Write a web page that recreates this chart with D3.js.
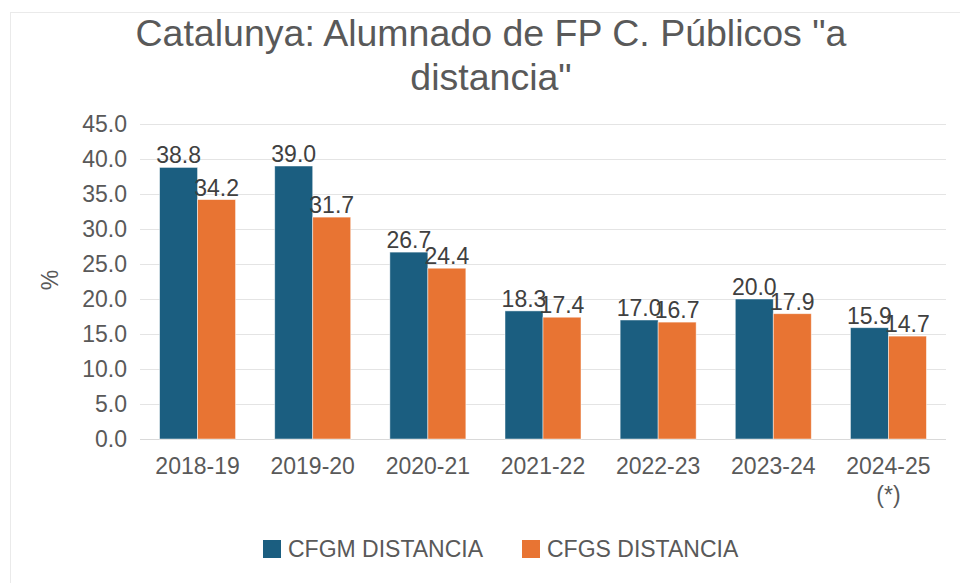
<!DOCTYPE html>
<html>
<head>
<meta charset="utf-8">
<script src="https://cdn.jsdelivr.net/npm/d3@7/dist/d3.min.js"></script>
<style>
  body { margin: 0; background: #fff; }
  svg { font-family: "Liberation Sans", Arial, sans-serif; }
</style>
</head>
<body>
<script>
// ---- data ----
var categories = ["2018-19", "2019-20", "2020-21", "2021-22", "2022-23", "2023-24", "2024-25|(*)"];
var seriesNames = ["CFGM DISTANCIA", "CFGS DISTANCIA"];
var cfgm = [38.8, 39.0, 26.7, 18.3, 17.0, 20.0, 15.9];
var cfgs = [34.2, 31.7, 24.4, 17.4, 16.7, 17.9, 14.7];
var yTicks = [0, 5, 10, 15, 20, 25, 30, 35, 40, 45];
var titleLines = ["Catalunya: Alumnado de FP C. Públicos \"a", "distancia\""];

// ---- layout ----
var W = 960, H = 583;
var margin = {top: 124, right: 14, bottom: 144, left: 140};
var width = W - margin.left - margin.right;
var height = H - margin.top - margin.bottom;
var colors = ["#1b5e80", "#e87433"];
var textGray = "#595959";
var fs = 23;

var svg = d3.select("body").append("svg")
  .attr("width", W)
  .attr("height", H);

// light frame
svg.append("rect")
  .attr("x", 10.5).attr("y", 12.5)
  .attr("width", W).attr("height", H)
  .attr("fill", "none")
  .attr("stroke", "#eaeaea");

// title
svg.append("g").selectAll("text")
  .data(titleLines)
  .enter().append("text")
    .attr("x", 491)
    .attr("y", function(d, i) { return 46 + i * 44; })
    .attr("text-anchor", "middle")
    .attr("font-size", 37.5)
    .attr("fill", textGray)
    .text(function(d) { return d; });

var g = svg.append("g")
  .attr("transform", "translate(" + margin.left + "," + margin.top + ")");

var x = d3.scaleBand()
  .domain(categories)
  .range([0, width]);

var x1 = d3.scaleBand()
  .domain(seriesNames)
  .range([0, 76]);

var y = d3.scaleLinear()
  .domain([0, 45])
  .range([height, 0]);

// gridlines
g.append("g").selectAll("line")
  .data(yTicks)
  .enter().append("line")
    .attr("x1", 0).attr("x2", width)
    .attr("y1", function(d) { return Math.round(y(d)) + 0.5; })
    .attr("y2", function(d) { return Math.round(y(d)) + 0.5; })
    .attr("stroke", function(d) { return d === 0 ? "#d9d9d9" : "#e4e4e4"; })
    .attr("stroke-width", 1.2);

// y axis labels
var yAxis = d3.axisLeft(y)
  .tickValues(yTicks)
  .tickFormat(d3.format(".1f"))
  .tickSize(0)
  .tickPadding(13);
var yg = g.append("g").call(yAxis);
yg.select(".domain").remove();
yg.selectAll("text")
  .attr("font-size", fs)
  .attr("fill", textGray)
  .attr("font-family", "Liberation Sans, Arial, sans-serif");

// y axis title
svg.append("text")
  .attr("transform", "translate(58,280) rotate(-90)")
  .attr("text-anchor", "middle")
  .attr("font-size", fs)
  .attr("fill", textGray)
  .text("%");

// x axis labels
var xg = g.append("g")
  .attr("transform", "translate(0," + height + ")");
categories.forEach(function(c) {
  var parts = c.split("|");
  var t = xg.append("text")
    .attr("x", x(c) + x.bandwidth() / 2)
    .attr("y", 35)
    .attr("text-anchor", "middle")
    .attr("font-size", fs)
    .attr("fill", textGray);
  parts.forEach(function(p, i) {
    t.append("tspan")
      .attr("x", x(c) + x.bandwidth() / 2)
      .attr("dy", i === 0 ? 0 : 29)
      .text(p);
  });
});

// bars
var seriesData = [cfgm, cfgs];
seriesData.forEach(function(vals, si) {
  var off = (x.bandwidth() - x1.range()[1]) / 2 + x1(seriesNames[si]);
  var sg = g.append("g");
  sg.selectAll("rect")
    .data(vals)
    .enter().append("rect")
      .attr("x", function(d, i) { return x(categories[i]) + off; })
      .attr("y", function(d) { return y(d); })
      .attr("width", x1.bandwidth())
      .attr("height", function(d) { return height - y(d); })
      .attr("fill", colors[si])
      .attr("stroke", "#ffffff")
      .attr("stroke-opacity", 0.6)
      .attr("stroke-width", 0.8);
  sg.selectAll("text")
    .data(vals)
    .enter().append("text")
      .attr("x", function(d, i) { return x(categories[i]) + off + x1.bandwidth() / 2; })
      .attr("y", function(d) { return y(d) - 4; })
      .attr("text-anchor", "middle")
      .attr("font-size", fs)
      .attr("fill", "#404040")
      .text(function(d) { return d3.format(".1f")(d); });
});

// legend
var legendX = [263, 522];
var legend = svg.append("g");
seriesNames.forEach(function(name, i) {
  legend.append("rect")
    .attr("x", legendX[i]).attr("y", 540)
    .attr("width", 18).attr("height", 18)
    .attr("fill", colors[i]);
  legend.append("text")
    .attr("x", legendX[i] + 25).attr("y", 557)
    .attr("font-size", fs)
    .attr("fill", textGray)
    .text(name);
});
</script>
</body>
</html>
